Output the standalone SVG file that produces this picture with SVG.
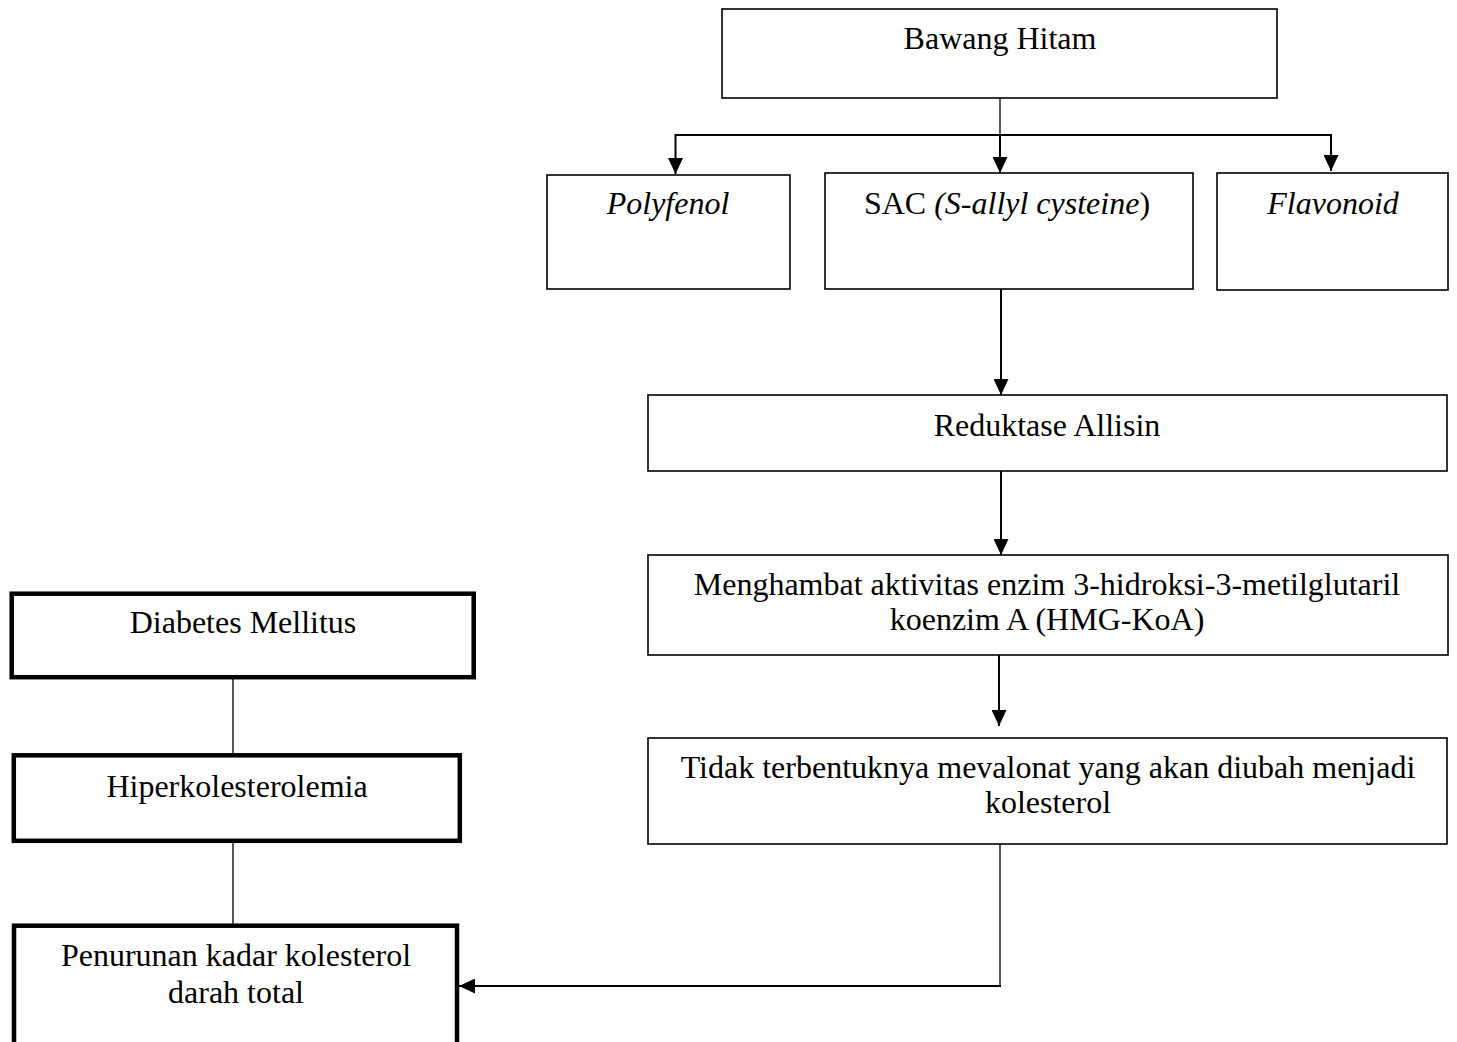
<svg xmlns="http://www.w3.org/2000/svg" width="1457" height="1042" viewBox="0 0 1457 1042">
<style>
  .box { fill: #ffffff; stroke: #000000; stroke-width: 1.6; }
  .bold { fill: #ffffff; stroke: #000000; stroke-width: 4.5; }
  text { font-family: "Liberation Serif", "Times New Roman", serif; font-size: 32px; fill: #000000; text-anchor: middle; }
  .it { font-style: italic; }
  .line { stroke: #000000; fill: none; stroke-width: 2; }
  .thin { stroke: #000000; fill: none; stroke-width: 1.3; }
</style>
<defs>
  <marker id="arrow" viewBox="0 0 16 15" refX="16" refY="7.5" markerWidth="16" markerHeight="15" markerUnits="userSpaceOnUse" orient="auto">
    <path d="M0,0 L16,7.5 L0,15 z" fill="#000000"/>
  </marker>
</defs>
<rect width="1457" height="1042" fill="#ffffff"/>

<g id="connectors">
  <line class="thin" x1="1000" y1="98" x2="1000" y2="135"/>
  <line class="line" x1="675.5" y1="135" x2="1331" y2="135"/>
  <line class="line" x1="675.5" y1="134" x2="675.5" y2="174" marker-end="url(#arrow)"/>
  <line class="line" x1="1000" y1="135" x2="1000" y2="173" marker-end="url(#arrow)"/>
  <line class="line" x1="1331" y1="134" x2="1331" y2="171" marker-end="url(#arrow)"/>
  <line class="line" x1="1001" y1="289" x2="1001" y2="395" marker-end="url(#arrow)"/>
  <line class="line" x1="1001" y1="471" x2="1001" y2="555" marker-end="url(#arrow)"/>
  <line class="line" x1="999" y1="655" x2="999" y2="726" marker-end="url(#arrow)"/>
  <line class="thin" x1="1000" y1="844" x2="1000" y2="986"/>
  <line class="line" x1="1001" y1="986" x2="459" y2="986" marker-end="url(#arrow)"/>
  <line class="thin" x1="233" y1="677" x2="233" y2="755"/>
  <line class="thin" x1="233" y1="841" x2="233" y2="925"/>
</g>

<g id="bawang-hitam">
  <rect class="box" x="722" y="9" width="555" height="89"/>
  <text x="1000" y="49">Bawang Hitam</text>
</g>
<g id="polyfenol">
  <rect class="box" x="547" y="175" width="243" height="114"/>
  <text x="668" y="214" class="it">Polyfenol</text>
</g>
<g id="sac">
  <rect class="box" x="825" y="173" width="368" height="116"/>
  <text x="1007" y="214">SAC <tspan class="it">(S-allyl cysteine</tspan>)</text>
</g>
<g id="flavonoid">
  <rect class="box" x="1217" y="173" width="231" height="117"/>
  <text x="1333" y="214" class="it">Flavonoid</text>
</g>
<g id="reduktase-allisin">
  <rect class="box" x="648" y="395" width="799" height="76"/>
  <text x="1047" y="436">Reduktase Allisin</text>
</g>
<g id="menghambat">
  <rect class="box" x="648" y="555" width="800" height="100"/>
  <text x="1047" y="595">Menghambat aktivitas enzim 3-hidroksi-3-metilglutaril</text>
  <text x="1047" y="630">koenzim A (HMG-KoA)</text>
</g>
<g id="tidak-terbentuk">
  <rect class="box" x="648" y="738" width="799" height="106"/>
  <text x="1048" y="778">Tidak terbentuknya mevalonat yang akan diubah menjadi</text>
  <text x="1048" y="813">kolesterol</text>
</g>
<g id="diabetes-mellitus">
  <rect class="bold" x="11.7" y="593.7" width="462" height="83.5"/>
  <text x="243" y="633">Diabetes Mellitus</text>
</g>
<g id="hiperkolesterolemia">
  <rect class="bold" x="13.8" y="755.3" width="446" height="85.5"/>
  <text x="237" y="797">Hiperkolesterolemia</text>
</g>
<g id="penurunan">
  <rect class="bold" x="14" y="925.7" width="443" height="140"/>
  <text x="236" y="966">Penurunan kadar kolesterol</text>
  <text x="236" y="1003">darah total</text>
</g>
</svg>
